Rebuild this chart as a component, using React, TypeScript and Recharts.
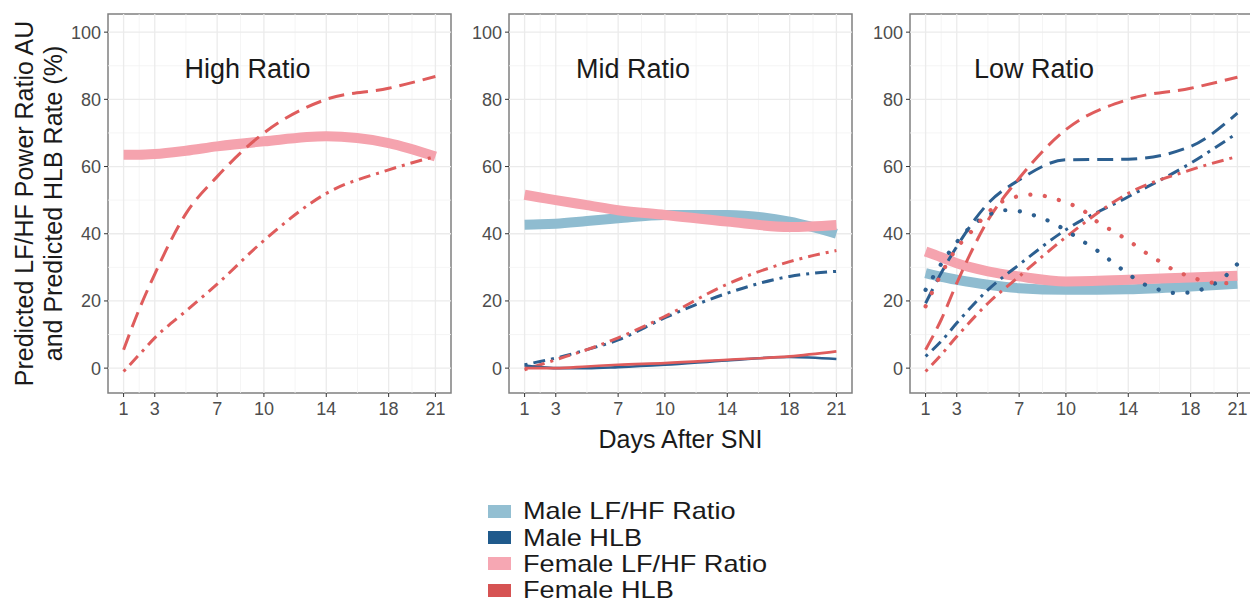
import React from 'react';
import { LineChart, Line, XAxis, YAxis, ReferenceLine, ReferenceArea, ReferenceDot, Legend } from 'recharts';

// ---------- data ----------
const DAYS = [1, 2, 3, 5, 7, 10, 14, 18, 21];
const DAYS_FINE = [1, 2, 3, 4, 5, 6, 7, 8, 9, 10, 11, 12, 13, 14, 15, 16, 17, 18, 19, 20, 21];

const X_TICKS = [1, 3, 7, 10, 14, 18, 21];
const X_MINOR = [2, 5, 8.5, 12, 16, 19.5];
const Y_TICKS = [0, 20, 40, 60, 80, 100];
const Y_MINOR = [10, 30, 50, 70, 90];

const PANEL_TITLES = ['High Ratio', 'Mid Ratio', 'Low Ratio'];
const LEGEND_LABELS = ['Male LF/HF Ratio', 'Male HLB', 'Female LF/HF Ratio', 'Female HLB'];

// High Ratio panel
const high_femaleRatio = [63.5, 63.5, 63.7, 64.7, 66, 67.5, 69, 67, 63];
const high_femaleDashed = [5.5, 17.5, 28, 46, 57, 70, 80, 83.3, 86.8];
const high_femaleDotDash = [-1, 4, 9, 17, 25, 38, 52, 59, 63];

// Mid Ratio panel
const mid_maleRatio = [42.7, 42.8, 43, 43.8, 44.6, 45.6, 45.6, 43.6, 40];
const mid_femaleRatio = [51.6, 50.8, 50, 48.5, 47, 45.6, 43.6, 42, 42.6];
const mid_maleDotDash = [1, 2, 3, 5.5, 8.4, 15, 22.3, 27.3, 28.8];
const mid_femaleDotDash = [-0.5, 1, 2.5, 5.5, 9, 15.4, 25, 31.7, 35];
const mid_maleSolid = [0.8, 0.3, 0, 0, 0.3, 1, 2.3, 3.3, 2.7];
const mid_femaleSolid = [0, 0, 0, 0.5, 1, 1.5, 2.5, 3.5, 5];

// Low Ratio panel
const low_maleRatio = [28.3, 27.2, 26.3, 24.8, 23.8, 23.3, 23.5, 24.3, 25.1];
const low_femaleRatio = [34.7, 33, 31.2, 28.8, 27.3, 25.8, 26.3, 27, 27.5];
const low_maleDashed = [19.3, 28.3, 36.2, 49, 56, 62, 62.2, 66, 75.9];
const low_femaleDashed = [5.5, 14.4, 25.3, 44, 56.5, 71, 80, 83.3, 86.6];
const low_maleDotDash = [3.5, 8, 13.4, 23.3, 30.8, 41.2, 51, 61, 70];
const low_femaleDotDash = [-1, 4, 9.4, 19.3, 27.3, 39, 52, 59, 63];
const low_maleDotted = [23.3, 31, 37.5, 42.5, 45.5, 47, 46.7, 45.4, 43.6, 41, 38, 35, 31.5, 28, 25, 23.3, 22.4, 22.5, 24, 26.5, 31];
const low_femaleDotted = [18.4, 28, 35.7, 41, 46.3, 49.8, 51.2, 51.7, 50.8, 49.3, 47.3, 43.6, 40.8, 38, 34.7, 31.8, 29, 27.2, 25.7, 25.3, 25.3];

// ---------- styles ----------
const C_MALE_RATIO = '#8FBCD0';
const C_MALE_HLB = '#2C5F90';
const C_FEMALE_RATIO = '#F5A3AE';
const C_FEMALE_HLB = '#DF5C5C';
const LEGEND_COLORS = ['#93BFD2', '#1F5A8C', '#F6A7B3', '#D65353'];

const FONT = '"Liberation Sans", Arial, Helvetica, sans-serif';

type LineStyle = 'thick' | 'solid' | 'dashed' | 'dotdash' | 'dotted';
const STYLES: Record<LineStyle, { w: number; dash?: string; cap: 'butt' | 'round' }> = {
  thick: { w: 10, cap: 'butt' },
  solid: { w: 2.6, cap: 'butt' },
  dashed: { w: 3, dash: '16 8', cap: 'butt' },
  dotdash: { w: 3, dash: '3 6 12 6', cap: 'butt' },
  dotted: { w: 4.2, dash: '0.1 14.5', cap: 'round' },
};

interface Series { days: number[]; values: number[]; color: string; style: LineStyle }

const toRows = (days: number[], values: number[]) => days.map((d, i) => ({ day: d, v: values[i] }));

const PANELS: Series[][] = [
  [
    { days: DAYS, values: high_femaleRatio, color: C_FEMALE_RATIO, style: 'thick' },
    { days: DAYS, values: high_femaleDashed, color: C_FEMALE_HLB, style: 'dashed' },
    { days: DAYS, values: high_femaleDotDash, color: C_FEMALE_HLB, style: 'dotdash' },
  ],
  [
    { days: DAYS, values: mid_maleRatio, color: C_MALE_RATIO, style: 'thick' },
    { days: DAYS, values: mid_femaleRatio, color: C_FEMALE_RATIO, style: 'thick' },
    { days: DAYS, values: mid_maleDotDash, color: C_MALE_HLB, style: 'dotdash' },
    { days: DAYS, values: mid_femaleDotDash, color: C_FEMALE_HLB, style: 'dotdash' },
    { days: DAYS, values: mid_maleSolid, color: C_MALE_HLB, style: 'solid' },
    { days: DAYS, values: mid_femaleSolid, color: C_FEMALE_HLB, style: 'solid' },
  ],
  [
    { days: DAYS, values: low_maleRatio, color: C_MALE_RATIO, style: 'thick' },
    { days: DAYS, values: low_femaleRatio, color: C_FEMALE_RATIO, style: 'thick' },
    { days: DAYS, values: low_maleDashed, color: C_MALE_HLB, style: 'dashed' },
    { days: DAYS, values: low_femaleDashed, color: C_FEMALE_HLB, style: 'dashed' },
    { days: DAYS, values: low_maleDotDash, color: C_MALE_HLB, style: 'dotdash' },
    { days: DAYS, values: low_femaleDotDash, color: C_FEMALE_HLB, style: 'dotdash' },
    { days: DAYS_FINE, values: low_maleDotted, color: C_MALE_HLB, style: 'dotted' },
    { days: DAYS_FINE, values: low_femaleDotted, color: C_FEMALE_HLB, style: 'dotted' },
  ],
];

const X_DOMAIN: [number, number] = [0, 22];
const Y_DOMAIN: [number, number] = [-7.4, 105.4];

const YLabel = (props: any) => {
  const vb = props.viewBox || { x: 0, y: 14, width: 108, height: 379 };
  const cy = vb.y + vb.height / 2;
  const x1 = vb.x + 33;
  const x2 = vb.x + 62;
  return (
    <g>
      <text x={x1} y={cy} transform={`rotate(-90 ${x1} ${cy})`} textAnchor="middle" fontSize={25} fill="#1a1a1a" fontFamily={FONT}>
        Predicted LF/HF Power Ratio AU
      </text>
      <text x={x2} y={cy} transform={`rotate(-90 ${x2} ${cy})`} textAnchor="middle" fontSize={25} fill="#1a1a1a" fontFamily={FONT}>
        and Predicted HLB Rate (%)
      </text>
    </g>
  );
};

const renderLegend = () => (
  <div style={{ fontFamily: FONT, color: '#1a1a1a' }}>
    {LEGEND_LABELS.map((lab, i) => (
      <div key={lab} style={{ display: 'flex', alignItems: 'center', height: 26.4 }}>
        <span style={{ display: 'inline-block', width: 23, height: 13, background: LEGEND_COLORS[i], marginRight: 12 }} />
        <span style={{ display: 'inline-block', fontSize: 24, lineHeight: '26px', transform: 'scaleX(1.13)', transformOrigin: 'left center', whiteSpace: 'nowrap' }}>
          {lab}
        </span>
      </div>
    ))}
  </div>
);

interface PanelProps {
  idx: number;
  left: number;
  yAxisWidth: number;
  height: number;
  xAxisHeight: number;
  marginBottom: number;
  titleX: number;
  withYLabel?: boolean;
  withXLabel?: boolean;
  withLegend?: boolean;
}

const PLOT_W = 343;

function Panel({ idx, left, yAxisWidth, height, xAxisHeight, marginBottom, titleX, withYLabel, withXLabel, withLegend }: PanelProps) {
  const width = yAxisWidth + PLOT_W + 2;
  return (
    <div style={{ position: 'absolute', left, top: 0 }}>
      <LineChart width={width} height={height} margin={{ top: 14, right: 2, left: 0, bottom: marginBottom }}>
        <XAxis
          type="number"
          dataKey="day"
          domain={X_DOMAIN}
          ticks={X_TICKS}
          allowDataOverflow
          axisLine={false}
          tickSize={4}
          tickMargin={5}
          tickLine={{ stroke: '#333333' }}
          tick={{ fontSize: 18, fill: '#4d4d4d', fontFamily: FONT }}
          height={xAxisHeight}
          interval={0}
          label={withXLabel ? { value: 'Days After SNI', position: 'insideBottom', offset: 0, fontSize: 25, fill: '#1a1a1a', fontFamily: FONT } : undefined}
        />
        <YAxis
          type="number"
          domain={Y_DOMAIN}
          ticks={Y_TICKS}
          allowDataOverflow
          axisLine={false}
          tickSize={4}
          tickMargin={3}
          tickLine={{ stroke: '#333333' }}
          tick={{ fontSize: 18, fill: '#4d4d4d', fontFamily: FONT }}
          width={yAxisWidth}
          interval={0}
          label={withYLabel ? (p: any) => <YLabel {...p} /> : undefined}
        />
        {Y_MINOR.map((v) => (
          <ReferenceLine key={'ym' + v} y={v} stroke="#f3f3f3" strokeWidth={0.8} />
        ))}
        {X_MINOR.map((v) => (
          <ReferenceLine key={'xm' + v} x={v} stroke="#f3f3f3" strokeWidth={0.8} />
        ))}
        {Y_TICKS.map((v) => (
          <ReferenceLine key={'yM' + v} y={v} stroke="#ebebeb" strokeWidth={1.3} />
        ))}
        {X_TICKS.map((v) => (
          <ReferenceLine key={'xM' + v} x={v} stroke="#ebebeb" strokeWidth={1.3} />
        ))}
        {PANELS[idx].map((s, i) => {
          const st = STYLES[s.style];
          return (
            <Line
              key={i}
              data={toRows(s.days, s.values)}
              dataKey="v"
              type="monotone"
              stroke={s.color}
              strokeWidth={st.w}
              strokeDasharray={st.dash}
              strokeLinecap={st.cap}
              dot={false}
              activeDot={false}
              isAnimationActive={false}
              legendType="none"
            />
          );
        })}
        <ReferenceDot
          x={titleX}
          y={89.3}
          r={0}
          fill="none"
          stroke="none"
          label={{ value: PANEL_TITLES[idx], position: 'center', fontSize: 27, fill: '#1a1a1a', fontFamily: FONT }}
        />
        <ReferenceArea
          x1={X_DOMAIN[0]}
          x2={X_DOMAIN[1]}
          y1={Y_DOMAIN[0]}
          y2={Y_DOMAIN[1]}
          fill="none"
          fillOpacity={0}
          stroke="#808080"
          strokeWidth={1.5}
        />
        {withLegend && (
          <Legend
            layout="vertical"
            align="center"
            verticalAlign="middle"
            content={renderLegend}
            wrapperStyle={{ left: 29, top: 498, width: 340 }}
          />
        )}
      </LineChart>
    </div>
  );
}

export default function App() {
  return (
    <div style={{ position: 'absolute', left: 0, top: 0, width: 1250, height: 607, overflow: 'hidden', background: '#ffffff', fontFamily: FONT }}>
      <Panel idx={0} left={0} yAxisWidth={108} height={423} xAxisHeight={30} marginBottom={0} titleX={8.95} withYLabel />
      <Panel idx={2} left={860} yAxisWidth={50} height={423} xAxisHeight={30} marginBottom={0} titleX={7.95} />
      <Panel idx={1} left={459} yAxisWidth={50} height={607} xAxisHeight={55} marginBottom={159} titleX={7.95} withXLabel withLegend />
    </div>
  );
}
